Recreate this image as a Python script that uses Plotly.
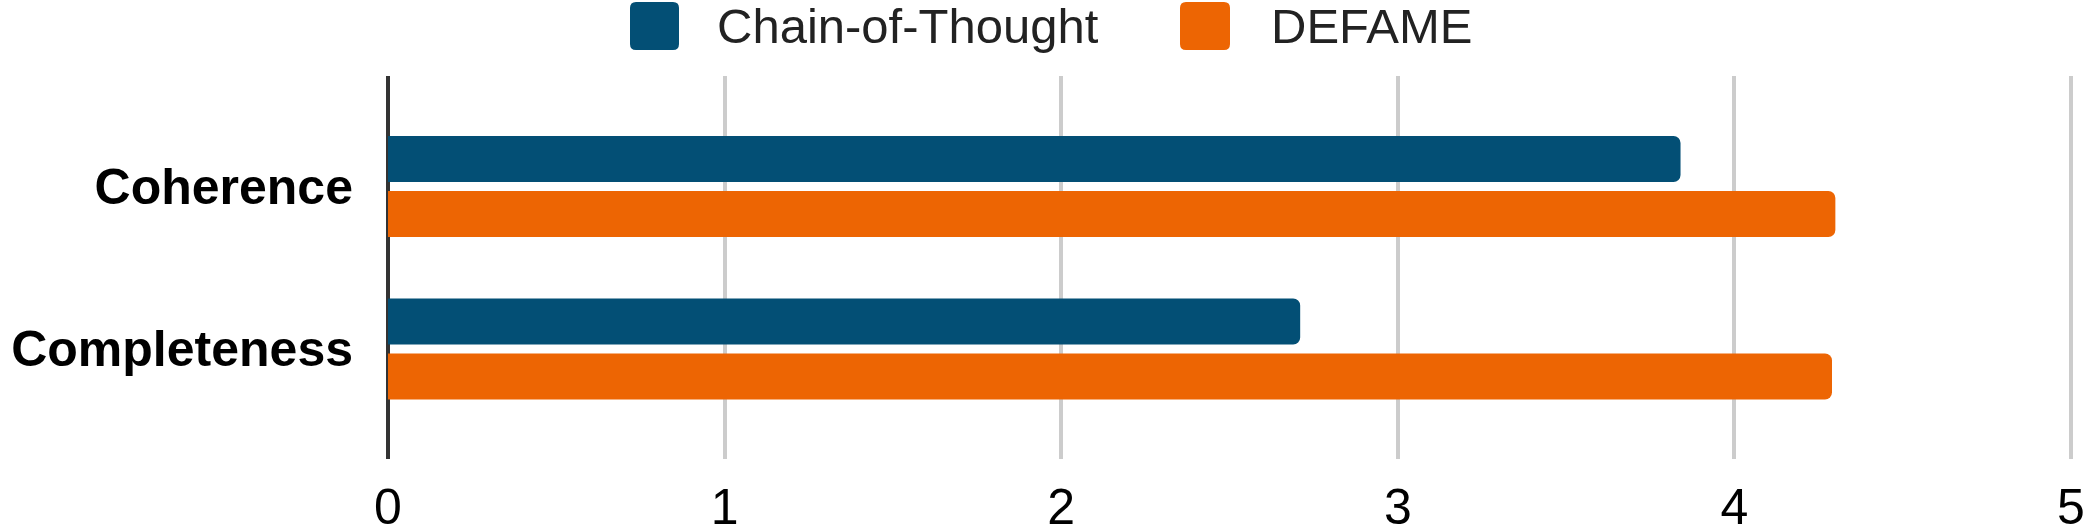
import plotly.graph_objects as go

# Données
critères = ['Coherence', 'Completeness']
cot = [3.84, 2.71]
defame = [4.30, 4.29]
séries = ['Chain-of-Thought', 'DEFAME']
couleurs = ['#034F75', '#ED6503']
graduations = [0, 1, 2, 3, 4, 5]

W, H = 2084, 531
ml, mr, mt, mb = 388, 11, 76, 72
pw, ph = W - ml - mr, H - mt - mb


# conversion pixels -> coordonnées papier (pour la légende dessinée)
def px_x(x):
    return (x - ml) / pw


def px_y(y):
    return (H - mb - y) / ph


def carre_arrondi(x0, y0, x1, y1, r=6):
    a, b, c, d = px_x(x0), px_y(y0), px_x(x1), px_y(y1)
    rx, ry = r / pw, r / ph
    return (f'M {a + rx} {b} L {c - rx} {b} Q {c} {b} {c} {b - ry} '
            f'L {c} {d + ry} Q {c} {d} {c - rx} {d} L {a + rx} {d} '
            f'Q {a} {d} {a} {d + ry} L {a} {b - ry} Q {a} {b} {a + rx} {b} Z')


fig = go.Figure()
fig.add_trace(go.Bar(y=critères, x=cot, name=séries[0], orientation='h',
                     marker=dict(color=couleurs[0], line=dict(width=0))))
fig.add_trace(go.Bar(y=critères, x=defame, name=séries[1], orientation='h',
                     marker=dict(color=couleurs[1], line=dict(width=0))))

# légende dessinée à la main (grands carrés)
legende = [(630, 679, 715), (1180, 1230, 1269)]
for i, (s0, s1, tx) in enumerate(legende):
    fig.add_shape(type='path', xref='paper', yref='paper',
                  path=carre_arrondi(s0, 2, s1, 50),
                  fillcolor=couleurs[i], line=dict(width=0))
    fig.add_annotation(x=px_x(tx), y=px_y(26), xref='paper', yref='paper',
                       text=séries[i], showarrow=False, xanchor='left', yanchor='middle',
                       font=dict(size=49, color='#222222', family='Liberation Sans, Arial'))

fig.update_xaxes(range=[0, 5.006], tickvals=graduations, showgrid=True, gridcolor='#cccccc',
                 gridwidth=4, zeroline=True, zerolinecolor='#333333', zerolinewidth=4,
                 showline=False, ticks='', ticklabelstandoff=14, automargin=False,
                 ticklabeloverflow='allow',
                 tickfont=dict(size=50, color='black', family='Liberation Sans, Arial'))
fig.update_yaxes(range=[1.677, -0.68], showgrid=False, zeroline=False, showline=False,
                 ticks='', ticklabelstandoff=34, automargin=False,
                 tickfont=dict(size=50, color='black', family='Liberation Sans, Arial',
                               weight='bold'))
fig.update_layout(width=W, height=H, margin=dict(l=ml, r=mr, t=mt, b=mb),
                  barmode='group', bargap=0.323, bargroupgap=0.1636, barcornerradius=7,
                  plot_bgcolor='white', paper_bgcolor='white', showlegend=False,
                  font=dict(family='Liberation Sans, Arial'))

# page sans marge pour que la figure occupe toute la fenêtre
fig.write_html("out.html", config={'displayModeBar': False},
               post_script="document.body.style.margin='0';")
